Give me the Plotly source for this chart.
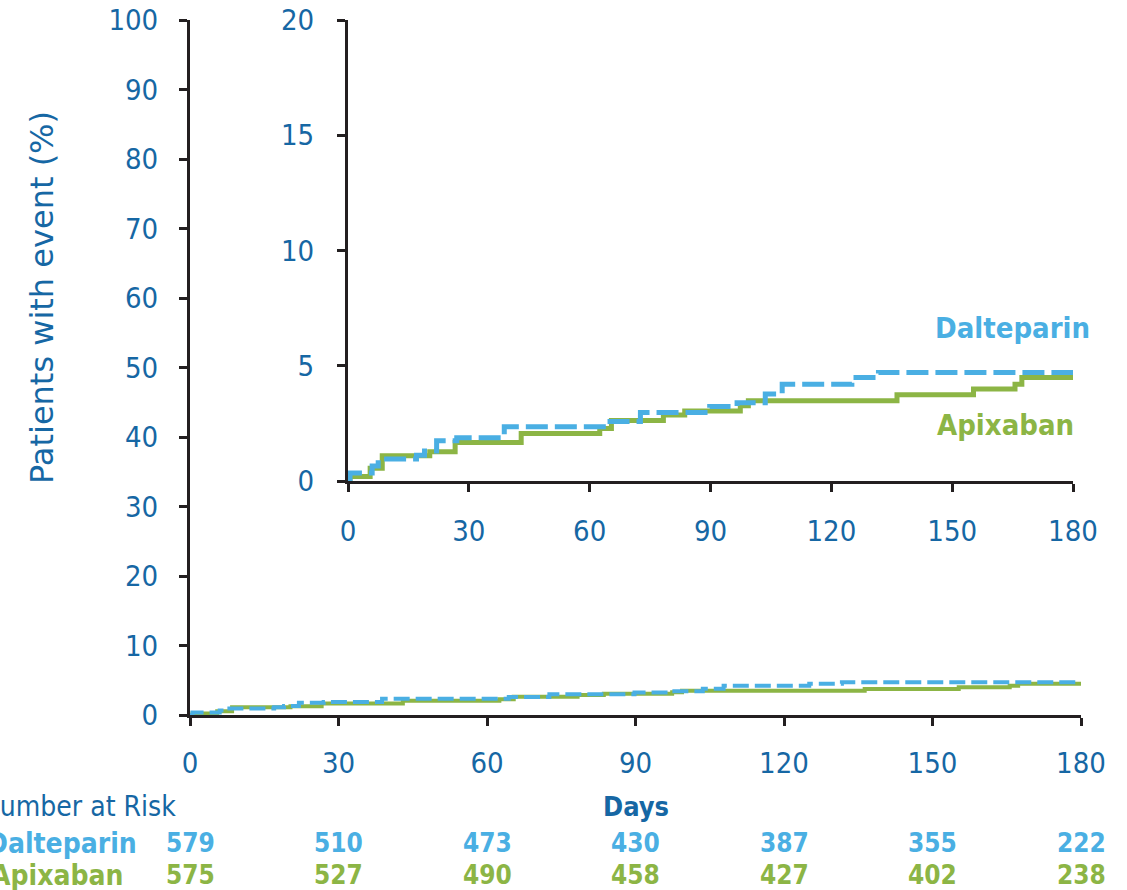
import plotly.graph_objects as go

# Kaplan-Meier style cumulative incidence (%), step changes
apixaban_days = [0, 0.5, 5.5, 8.5, 20.3, 26.6, 43, 62.5, 65.4, 78.3, 83.6, 97.4, 99.4, 136.3, 155.3, 165.6, 167.3, 180]
apixaban_pct = [0, 0.2, 0.55, 1.1, 1.27, 1.67, 2.06, 2.28, 2.62, 2.86, 3.04, 3.26, 3.48, 3.74, 3.99, 4.2, 4.49, 4.49]

dalteparin_days = [0, 0.5, 6, 7.5, 17, 19, 22, 27, 38.8, 64.4, 72.6, 89.8, 96.6, 103.6, 107.8, 125.1, 131.7, 180]
dalteparin_pct = [0, 0.35, 0.65, 0.95, 1.12, 1.3, 1.75, 1.88, 2.35, 2.58, 2.97, 3.23, 3.4, 3.77, 4.2, 4.49, 4.71, 4.71]

# Number at risk table
risk_days = [0, 30, 60, 90, 120, 150, 180]
dalteparin_risk = [579, 510, 473, 430, 387, 355, 222]
apixaban_risk = [575, 527, 490, 458, 427, 402, 238]

x_ticks = [0, 30, 60, 90, 120, 150, 180]
main_y_ticks = list(range(0, 101, 10))
inset_y_ticks = [0, 5, 10, 15, 20]

W, H = 1127, 890
FONT = "DejaVu Sans Condensed, DejaVu Sans, sans-serif"
WIDE_FONT = "DejaVu Sans, sans-serif"
DARK_BLUE = "#1667a4"
LIGHT_BLUE = "#4aafe3"
GREEN = "#8cb545"
AXIS = "#231f20"


def px(x):
    return x / W


def py(y):
    return (H - y) / H


fig = go.Figure()

for xa, ya, width, dash in [("x", "y", 4, "16px,6px"), ("x2", "y2", 5, "22px,7px")]:
    fig.add_trace(go.Scatter(
        x=apixaban_days, y=apixaban_pct, mode="lines", line_shape="hv",
        line=dict(color=GREEN, width=width), xaxis=xa, yaxis=ya,
        showlegend=False, cliponaxis=False,
    ))
    fig.add_trace(go.Scatter(
        x=dalteparin_days, y=dalteparin_pct, mode="lines", line_shape="hv",
        line=dict(color=LIGHT_BLUE, width=width, dash=dash), xaxis=xa, yaxis=ya,
        showlegend=False, cliponaxis=False,
    ))

axis_common = dict(
    showline=True, linecolor=AXIS, linewidth=3, mirror=False,
    ticks="outside", ticklen=8, tickwidth=3, tickcolor=AXIS,
    showgrid=False, zeroline=False, automargin=False,
    tickfont=dict(family=FONT, size=29, color=DARK_BLUE),
)

fig.update_layout(
    template="none",
    width=W, height=H,
    margin=dict(l=0, r=0, t=0, b=0, pad=0),
    paper_bgcolor="white", plot_bgcolor="white",
    showlegend=False,
    xaxis=dict(domain=[px(190), px(1081)], range=[0, 180], tickvals=x_ticks,
               anchor="y", ticklabelstandoff=12, **axis_common),
    yaxis=dict(domain=[py(715), py(20)], range=[0, 100], tickvals=main_y_ticks,
               anchor="x", ticklabelstandoff=15, **axis_common),
    xaxis2=dict(domain=[px(348), px(1073)], range=[0, 180], tickvals=x_ticks,
                anchor="y2", ticklabelstandoff=14, **axis_common),
    yaxis2=dict(domain=[py(481), py(20)], range=[0, 20], tickvals=inset_y_ticks,
                anchor="x2", ticklabelstandoff=17, **axis_common),
)


def label(text, x, y, color, size, font=FONT, xref="paper", xanchor="center", **kw):
    return dict(text=text, x=x, y=y, xref=xref, yref="paper", showarrow=False,
                xanchor=xanchor, yanchor="middle",
                font=dict(family=font, size=size, color=color), **kw)


ann = [
    label("Patients with event (%)", px(42), py(298), DARK_BLUE, 32, font=WIDE_FONT, textangle=-90),
    label("<b>Dalteparin</b>", px(1012), py(328), LIGHT_BLUE, 29),
    label("<b>Apixaban</b>", px(1005), py(425), GREEN, 29),
    # Risk table labels (left ends run past the page edge)
    label("Number at Risk", px(178), py(806), DARK_BLUE, 28, xanchor="right"),
    label("<b>Dalteparin</b>", px(139), py(843), LIGHT_BLUE, 28, xanchor="right"),
    label("<b>Apixaban</b>", px(125), py(875), GREEN, 28, xanchor="right"),
    label("<b>Days</b>", 90, py(806), DARK_BLUE, 27, xref="x"),
]

for d, dv, av in zip(risk_days, dalteparin_risk, apixaban_risk):
    ann.append(label(f"<b>{dv}</b>", d, py(843), LIGHT_BLUE, 26, xref="x"))
    ann.append(label(f"<b>{av}</b>", d, py(875), GREEN, 26, xref="x"))

fig.update_layout(annotations=ann)

fig.write_html("out.html")
